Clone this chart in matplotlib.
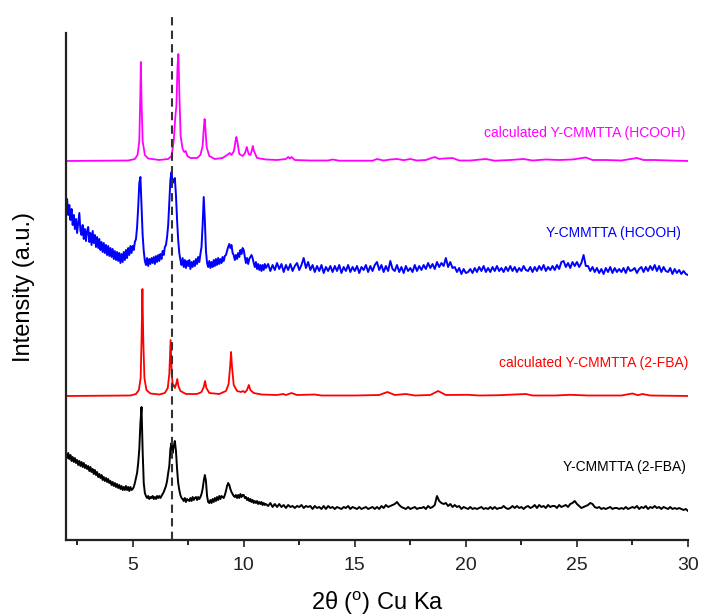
import numpy as np
import matplotlib
matplotlib.use("Agg")
import matplotlib.pyplot as plt
from matplotlib.ticker import MultipleLocator

plt.rcParams['font.family'] = ['Liberation Sans', 'DejaVu Sans']

# ---------------- data ----------------
# experimental traces: 0.05 deg steps from 2.00 to 10.95, 0.1 deg steps from 11.0 to 30.0
lo_start, lo_step = 2.0, 0.05
hi_start, hi_step = 11.0, 0.1

blue_lo = [
    68, 76, 60, 70, 55, 66, 50, 60, 46, 56, 42, 52, 62, 44, 40, 50, 36, 46, 34, 44,   # 2.0
    48, 33, 42, 30, 44, 32, 40, 28, 38, 27, 36, 25, 33, 23, 32, 22, 30, 20, 29, 19,   # 3.0
    27, 18, 26, 16, 24, 15, 23, 14, 22, 12, 21, 13, 23, 15, 25, 17, 27, 20, 29, 22,   # 4.0
    29, 25, 33, 36, 48, 68, 92, 98, 70, 40, 24, 14, 10, 17, 9, 16, 11, 17, 12, 18,   # 5.0
    11, 19, 13, 20, 14, 21, 16, 24, 20, 28, 30, 38, 50, 72, 95, 103, 92, 94, 97, 80,  # 6.0
    55, 35, 22, 15, 10, 17, 8, 15, 7, 14, 9, 15, 6, 13, 8, 14, 9, 16, 11, 18,         # 7.0
    13, 21, 28, 50, 78, 55, 24, 12, 8, 14, 7, 13, 8, 15, 9, 16, 10, 17, 11, 16,       # 8.0
    12, 18, 14, 19, 20, 24, 28, 31, 27, 30, 22, 20, 15, 20, 16, 22, 18, 25, 21, 27,   # 9.0
    25, 18, 12, 17, 11, 16, 18, 20, 17, 12, 8, 13, 6, 11, 5, 10, 4, 10, 5, 11,        # 10.0
]
blue_hi = [
    7, 11, 4, 10, 5, 12, 6, 11, 3, 10,    # 11
    5, 11, 4, 9, 12, 5, 10, 17, 7, 13,    # 12
    5, 10, 3, 9, 4, 10, 2, 8, 4, 9,       # 13
    3, 9, 4, 10, 2, 8, 4, 10, 3, 8,       # 14
    4, 9, 2, 8, 5, 10, 3, 9, 4, 10,       # 15
    13, 5, 10, 3, 9, 4, 14, 6, 4, 10,     # 16
    3, 8, 2, 9, 4, 7, 3, 10, 4, 9,        # 17
    5, 10, 6, 12, 7, 11, 6, 13, 8, 12,    # 18
    9, 17, 8, 13, 7, 8, 3, 7, 1, 6,       # 19
    2, 3, 6, 2, 7, 3, 8, 4, 9, 3,         # 20
    7, 3, 8, 4, 9, 4, 7, 3, 8, 4,         # 21
    9, 4, 8, 3, 7, 4, 9, 5, 4, 8,         # 22
    3, 8, 4, 9, 5, 10, 4, 8, 5, 9,        # 23
    5, 10, 6, 13, 14, 8, 12, 7, 13, 9,    # 24
    13, 8, 12, 20, 9, 9, 4, 8, 3, 7,      # 25
    2, 6, 1, 7, 3, 8, 2, 7, 3, 6,         # 26
    3, 7, 2, 8, 4, 5, 7, 2, 6, 8,         # 27
    3, 8, 4, 9, 5, 10, 4, 9, 3, 8,        # 28
    4, 3, 7, 1, 6, 2, 5, 1, 4, 1,         # 29
    0,                                    # 30
]

black_lo = [
    58, 53, 58, 52, 56, 50, 54, 49, 53, 48, 51, 46, 50, 45, 49, 44, 48, 43, 46, 42,   # 2.0
    45, 40, 44, 39, 42, 37, 41, 36, 39, 34, 37, 33, 36, 31, 34, 30, 33, 29, 32, 28,   # 3.0
    30, 26, 29, 25, 28, 24, 27, 23, 26, 22, 25, 21, 24, 21, 25, 21, 24, 20, 24, 21,   # 4.0
    22, 24, 28, 33, 38, 48, 62, 88, 104, 60, 28, 18, 15, 13, 15, 12, 14, 13, 15, 12,  # 5.0
    14, 12, 15, 13, 15, 13, 15, 17, 19, 22, 25, 30, 38, 45, 62, 68, 58, 65, 70, 60,   # 6.0
    42, 28, 21, 16, 13, 12, 10, 13, 9, 12, 11, 10, 13, 10, 14, 11, 13, 14, 11, 14,    # 7.0
    12, 14, 17, 22, 30, 36, 30, 15, 9, 8, 11, 8, 12, 9, 13, 10, 14, 11, 15, 12,       # 8.0
    15, 14, 13, 16, 20, 25, 28, 26, 22, 19, 17, 15, 14, 16, 13, 16, 13, 17, 14, 16,   # 9.0
    16, 13, 14, 11, 13, 10, 12, 9, 11, 8, 10, 8, 10, 7, 9, 7, 9, 6, 8, 6,             # 10.0
]
black_hi = [
    7, 5, 8, 4, 7, 4, 7, 4, 6, 3,         # 11
    6, 4, 5, 3, 5, 4, 6, 3, 5, 4,         # 12
    5, 2, 5, 3, 4, 2, 5, 2, 5, 3,         # 13
    4, 2, 4, 3, 2, 4, 3, 5, 2, 4,         # 14
    3, 2, 4, 2, 3, 4, 2, 3, 4, 2,         # 15
    4, 2, 5, 3, 6, 4, 5, 6, 7, 9,         # 16
    6, 4, 3, 2, 4, 2, 3, 4, 2, 3,         # 17
    3, 4, 2, 5, 3, 4, 6, 15, 10, 8,       # 18
    7, 8, 5, 7, 4, 6, 4, 5, 2, 4,         # 19
    3, 2, 4, 2, 3, 2, 3, 4, 2, 3,         # 20
    2, 4, 2, 4, 2, 3, 3, 5, 3, 2,         # 21
    3, 5, 3, 5, 3, 4, 2, 4, 5, 3,         # 22
    4, 6, 3, 6, 4, 5, 3, 6, 4, 5,         # 23
    5, 3, 6, 4, 5, 6, 4, 7, 8, 10,        # 24
    7, 5, 3, 4, 5, 6, 8, 7, 4, 3,         # 25
    4, 2, 3, 2, 3, 4, 2, 3, 3, 2,         # 26
    3, 2, 4, 2, 3, 4, 3, 5, 2, 4,         # 27
    3, 5, 2, 4, 3, 5, 3, 4, 2, 4,         # 28
    3, 2, 4, 2, 3, 2, 3, 2, 1, 2,         # 29
    0,                                    # 30
]

# calculated patterns: (2theta, intensity) samples
magenta_x = [2.0, 4.8, 5.1, 5.22, 5.3, 5.34, 5.37, 5.40, 5.45, 5.55, 5.7, 6.2, 6.6, 6.75, 6.85,
             6.92, 6.97, 7.02, 7.06, 7.10, 7.16, 7.25, 7.32, 7.39, 7.46, 7.6, 7.9, 8.05, 8.15,
             8.21, 8.24, 8.27, 8.33, 8.45, 8.7, 9.05, 9.25, 9.37, 9.45, 9.56, 9.63, 9.67, 9.71,
             9.8, 9.95, 10.06, 10.14, 10.22, 10.3, 10.36, 10.41, 10.46, 10.6, 11.0, 11.5, 11.9,
             12.0, 12.08, 12.15, 12.3, 13.0, 13.8, 14.0, 14.3, 15.8, 16.0, 16.3, 16.6, 16.9,
             17.2, 17.5, 17.8, 18.2, 18.6, 18.8, 19.0, 19.4, 19.7, 20.2, 20.9, 21.3, 22.0, 22.6,
             23.0, 23.6, 24.2, 24.8, 25.4, 25.7, 26.3, 27.0, 27.7, 28.0, 28.5, 29.2, 30.0]
magenta_y = [0, 0.5, 2, 6, 20, 60, 99, 60, 20, 6, 2.5, 1, 2, 5, 20,
             44, 55, 95, 107, 70, 25, 12, 9, 10, 5, 3, 3, 6, 15,
             35, 42, 35, 14, 5, 2, 3, 6, 8, 6, 10, 20, 24, 20,
             7, 5, 8, 14, 7, 6, 10, 15, 10, 3, 1.5, 1, 2,
             4, 2.5, 4, 1, 0.5, 0.5, 1.5, 0.3, 0.3, 2, 0.5, 1.5, 2,
             0.8, 2, 0.5, 1, 4, 2, 2.5, 3, 0.5, 0.5, 2, 0.3, 1, 2,
             0.5, 1.5, 1, 1.5, 3.5, 1, 1, 0.5, 3, 1, 1, 0.5, 0]

red_x = [2.0, 4.9, 5.15, 5.28, 5.36, 5.40, 5.44, 5.48, 5.53, 5.62, 5.8, 6.2, 6.45, 6.58, 6.65,
         6.71, 6.76, 6.81, 6.85, 6.9, 6.96, 7.01, 7.06, 7.15, 7.4, 7.9, 8.1, 8.2, 8.26, 8.32,
         8.45, 8.9, 9.2, 9.32, 9.39, 9.43, 9.47, 9.55, 9.7, 9.88, 9.97, 10.05, 10.15, 10.23,
         10.3, 10.45, 10.8, 11.5, 11.77, 11.9, 12.15, 12.4, 13.2, 13.5, 15.0, 16.1, 16.47,
         16.8, 17.3, 17.7, 18.4, 18.75, 19.1, 20.1, 20.6, 21.5, 22.7, 23.0, 24.0, 24.7, 25.5,
         27.0, 27.5, 27.75, 27.95, 28.3, 30.0]
red_y = [0, 0.5, 2, 6, 18, 55, 107, 55, 18, 6, 2.5, 1.5, 3, 8, 22,
         56, 22, 10, 11, 8, 12, 17, 10, 5, 2, 2, 4, 9, 15, 8,
         3, 2, 5, 12, 30, 44, 30, 11, 5, 4, 5, 3.5, 6, 11,
         6, 3, 1.5, 1, 2, 1, 3, 1, 1.5, 0.5, 0.5, 1, 4,
         1, 2, 0.5, 1, 5, 1, 1.2, 0.5, 0.8, 2, 0.5, 0.5, 1.2, 0.5,
         0.5, 2.5, 0.8, 2, 0.5, 0]

labels = ["calculated Y-CMMTTA (HCOOH)", "Y-CMMTTA (HCOOH)",
          "calculated Y-CMMTTA (2-FBA)", "Y-CMMTTA (2-FBA)"]
offsets = [379, 265, 144, 29]
colors = ["#FF00FF", "#0000FF", "#FF0000", "#000000"]
label_pos = [(29.86, 407), (29.7, 307), (30.0, 177), (29.9, 73)]
ref_line = 6.75

assert len(blue_lo) == 180 and len(black_lo) == 180
assert len(blue_hi) == 191 and len(black_hi) == 191

x_lo = lo_start + lo_step * np.arange(len(blue_lo))
x_hi = hi_start + hi_step * np.arange(len(blue_hi))
x_exp = np.concatenate([x_lo, x_hi])
blue_y = np.array(blue_lo + blue_hi, dtype=float)
black_y = np.array(black_lo + black_hi, dtype=float)

# ---------------- figure ----------------
fig = plt.figure(figsize=(7.02, 6.16), dpi=100)
ax = fig.add_axes([66/702, 76/616, 622/702, 507/616])

series = [(np.array(magenta_x), np.array(magenta_y)),
          (x_exp, blue_y),
          (np.array(red_x), np.array(red_y)),
          (x_exp, black_y)]
widths = [1.3, 1.4, 1.3, 1.4]
for (xs, ys), off, c, w in zip(series, offsets, colors, widths):
    ax.plot(xs, ys + off, color=c, lw=w, solid_joinstyle='round')

for lab, (lx, ly), c in zip(labels, label_pos, colors):
    ax.text(lx, ly, lab, color=c, fontsize=10, ha='right', va='center')

ax.plot([ref_line, ref_line], [0, 528], color='#333333', lw=1.5,
        linestyle=(0, (4, 2.5)), clip_on=False, zorder=5)

ax.set_xlim(2, 30)
ax.set_ylim(0, 507)
ax.xaxis.set_major_locator(MultipleLocator(5))
ax.xaxis.set_minor_locator(MultipleLocator(2.5))
ax.tick_params(axis='x', which='major', direction='out', length=5, width=1.2,
               labelsize=14, pad=7, colors='#222222')
ax.tick_params(axis='x', which='minor', direction='out', length=3.5, width=1.2)
ax.set_yticks([])
for s in ['top', 'right']:
    ax.spines[s].set_visible(False)
for s in ['left', 'bottom']:
    ax.spines[s].set_linewidth(1.6)
    ax.spines[s].set_color('#222222')

ax.set_xlabel(r"2θ ($^{\mathregular{o}}$) Cu Ka", fontsize=17, labelpad=11)
ax.set_ylabel("Intensity (a.u.)", fontsize=17, labelpad=22)

fig.savefig("out.png", dpi=100)
